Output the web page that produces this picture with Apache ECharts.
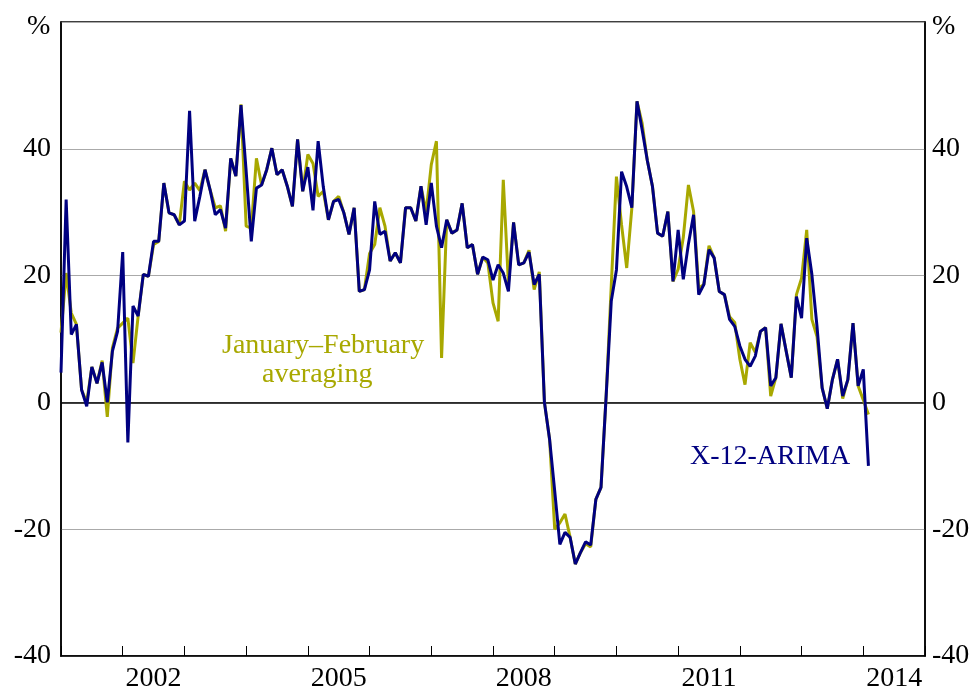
<!DOCTYPE html>
<html>
<head>
<meta charset="utf-8">
<script src="https://cdn.jsdelivr.net/npm/echarts@6/dist/echarts.min.js"></script>
<style>
html,body{margin:0;padding:0;background:#fff;}
#chart{width:975px;height:693px;}
</style>
</head>
<body>
<div id="chart"></div>
<script>
// Monthly observations from January 2001 to February 2014
var startYear = 2001;
var yearLabels = ['2002', '2005', '2008', '2011', '2014'];
var yTicks = [-40, -20, 0, 20, 40];

var x12Arima = [
  4.7, 32.0, 10.7, 12.3, 2.0, -0.6, 5.6, 3.0, 6.3, 0.0, 8.1, 11.2,
  23.7, -6.3, 15.2, 13.6, 20.2, 19.9, 25.4, 25.4, 34.6, 29.9, 29.6, 28.0,
  28.6, 46.0, 28.6, 32.5, 36.7, 33.5, 29.6, 30.4, 27.5, 38.5, 35.7, 46.9,
  36.5, 25.4, 33.8, 34.3, 36.7, 40.1, 35.9, 36.7, 34.1, 30.9, 41.5, 33.3,
  37.1, 30.3, 41.2, 34.0, 28.8, 31.7, 32.0, 29.9, 26.5, 30.7, 17.5, 17.8,
  20.9, 31.7, 26.5, 27.0, 22.3, 23.6, 22.0, 30.7, 30.7, 28.6, 34.1, 28.0,
  34.6, 27.8, 24.4, 28.8, 26.7, 27.2, 31.4, 24.4, 24.9, 20.2, 22.9, 22.5,
  19.3, 21.7, 20.4, 17.5, 28.4, 21.7, 22.0, 23.7, 18.6, 20.2, 0.0, -5.8,
  -14.0, -22.4, -20.5, -21.3, -25.5, -23.7, -22.0, -22.5, -15.3, -13.4, 1.0, 16.0,
  20.9, 36.4, 34.0, 30.7, 47.5, 43.0, 38.2, 34.1, 26.7, 26.2, 30.1, 19.1,
  27.2, 19.4, 25.0, 29.6, 17.0, 18.6, 24.1, 22.8, 17.5, 17.0, 13.1, 12.0,
  8.9, 6.8, 5.7, 7.3, 11.2, 11.8, 2.6, 3.9, 12.4, 8.1, 3.9, 16.7,
  13.3, 25.9, 20.2, 12.0, 2.3, -1.0, 3.6, 6.8, 1.0, 3.6, 12.5, 2.6,
  5.2, -10.0
];

var janFebAveraging = [
  11.0, 20.4, 14.1, 12.3, 2.0, 0.0, 5.6, 3.0, 6.6, -2.3, 8.6, 11.7,
  12.5, 13.3, 6.2, 13.6, 20.2, 19.9, 24.9, 25.4, 34.6, 29.9, 29.6, 28.0,
  34.9, 33.5, 34.6, 33.4, 36.7, 33.5, 30.7, 31.0, 27.0, 38.5, 35.7, 47.0,
  27.8, 27.5, 38.5, 34.3, 36.7, 40.1, 35.9, 36.7, 34.1, 30.9, 41.5, 33.3,
  39.1, 37.7, 32.5, 33.3, 28.8, 31.7, 32.5, 29.9, 26.5, 30.7, 17.5, 17.8,
  23.5, 24.9, 30.7, 27.8, 22.3, 23.6, 22.0, 30.7, 30.7, 28.6, 34.1, 30.0,
  37.5, 41.2, 7.0, 28.8, 26.7, 27.2, 31.4, 24.4, 24.9, 20.2, 22.9, 22.0,
  15.7, 12.8, 35.1, 18.8, 28.4, 21.7, 22.0, 24.0, 17.8, 20.6, 0.0, -5.8,
  -20.0, -19.0, -17.6, -21.3, -25.5, -23.7, -22.3, -22.8, -15.3, -13.4, 1.0, 18.5,
  35.6, 28.0, 21.2, 30.7, 47.5, 44.0, 38.2, 34.1, 26.7, 26.2, 30.1, 19.1,
  21.0, 26.0, 34.3, 30.1, 18.0, 18.6, 24.7, 22.8, 17.5, 17.0, 13.5, 12.6,
  6.8, 2.8, 9.4, 7.9, 11.2, 11.8, 1.0, 3.9, 12.4, 8.1, 3.9, 17.0,
  19.6, 27.2, 13.1, 10.4, 2.3, -1.0, 3.6, 6.8, 0.6, 3.6, 12.5, 2.6,
  0.4, -1.9
];

function toPairs(arr) {
  return arr.map(function (v, i) { return [startYear + i / 12, v]; });
}

var serif = '"Liberation Serif", "Times New Roman", serif';
var labelSize = 28;
var chart = echarts.init(document.getElementById('chart'), null, {renderer: 'canvas'});

function yLabel(v) {
  return yTicks.indexOf(v) >= 0 ? String(v) : '';
}

var option = {
  animation: false,
  backgroundColor: '#ffffff',
  grid: {left: 61, right: 50, top: 22, bottom: 36, show: true, borderColor: '#000', borderWidth: 1.5, backgroundColor: 'transparent'},
  xAxis: [
    {
      type: 'value', min: 2001, max: 2015, interval: 1, position: 'bottom',
      axisLine: {show: true, onZero: false, lineStyle: {color: '#000', width: 1.5}},
      axisTick: {show: true, inside: true, length: 10, lineStyle: {color: '#000', width: 1}},
      axisLabel: {show: false},
      splitLine: {show: false}
    },
    {
      type: 'value', min: 2001, max: 2015, interval: 0.5, position: 'bottom', offset: 0,
      axisLine: {show: false}, axisTick: {show: false}, splitLine: {show: false},
      axisLabel: {
        margin: 9, fontSize: labelSize, fontFamily: serif, color: '#000',
        formatter: function (v) {
          var y = Math.floor(v + 1e-6);
          if (Math.abs(v - y - 0.5) < 0.01 && yearLabels.indexOf(String(y)) >= 0) return String(y);
          return '';
        }
      }
    }
  ],
  yAxis: [
    {
      type: 'value', min: -40, max: 60, interval: 20, position: 'left',
      axisLine: {show: true, onZero: false, lineStyle: {color: '#000', width: 1.5}},
      axisTick: {show: false},
      axisLabel: {margin: 10, fontSize: labelSize, fontFamily: serif, color: '#000', formatter: yLabel},
      splitLine: {show: true, lineStyle: {color: '#aaaaaa', width: 1}}
    },
    {
      type: 'value', min: -40, max: 60, interval: 20, position: 'right',
      axisLine: {show: true, onZero: false, lineStyle: {color: '#000', width: 1.5}},
      axisTick: {show: false},
      axisLabel: {margin: 7, fontSize: labelSize, fontFamily: serif, color: '#000', formatter: yLabel},
      splitLine: {show: false}
    }
  ],
  graphic: [
    {type: 'text', left: 27, top: 13, style: {text: '%', fontSize: labelSize, fontFamily: serif, fill: '#000'}},
    {type: 'text', left: 932, top: 13, style: {text: '%', fontSize: labelSize, fontFamily: serif, fill: '#000'}},
    {type: 'text', left: 222, top: 332, style: {text: 'January\u2013February', fontSize: 28, fontFamily: serif, fill: '#a8a800'}},
    {type: 'text', left: 262, top: 361, style: {text: 'averaging', fontSize: 28, fontFamily: serif, fill: '#a8a800'}},
    {type: 'text', left: 690, top: 443, style: {text: 'X-12-ARIMA', fontSize: 28, fontFamily: serif, fill: '#000080'}}
  ],
  series: [
    {
      name: 'January–February averaging', type: 'line', xAxisIndex: 0, yAxisIndex: 0,
      data: toPairs(janFebAveraging), showSymbol: false, symbol: 'none',
      lineStyle: {color: '#a8a800', width: 3}, z: 3,
      markLine: {
        silent: true, symbol: 'none', label: {show: false},
        lineStyle: {color: '#000', width: 1.5, type: 'solid'},
        data: [{yAxis: 0}], z: 2
      }
    },
    {
      name: 'X-12-ARIMA', type: 'line', xAxisIndex: 0, yAxisIndex: 0,
      data: toPairs(x12Arima), showSymbol: false, symbol: 'none',
      lineStyle: {color: '#000080', width: 3}, z: 4
    }
  ]
};
chart.setOption(option);
</script>
</body>
</html>
